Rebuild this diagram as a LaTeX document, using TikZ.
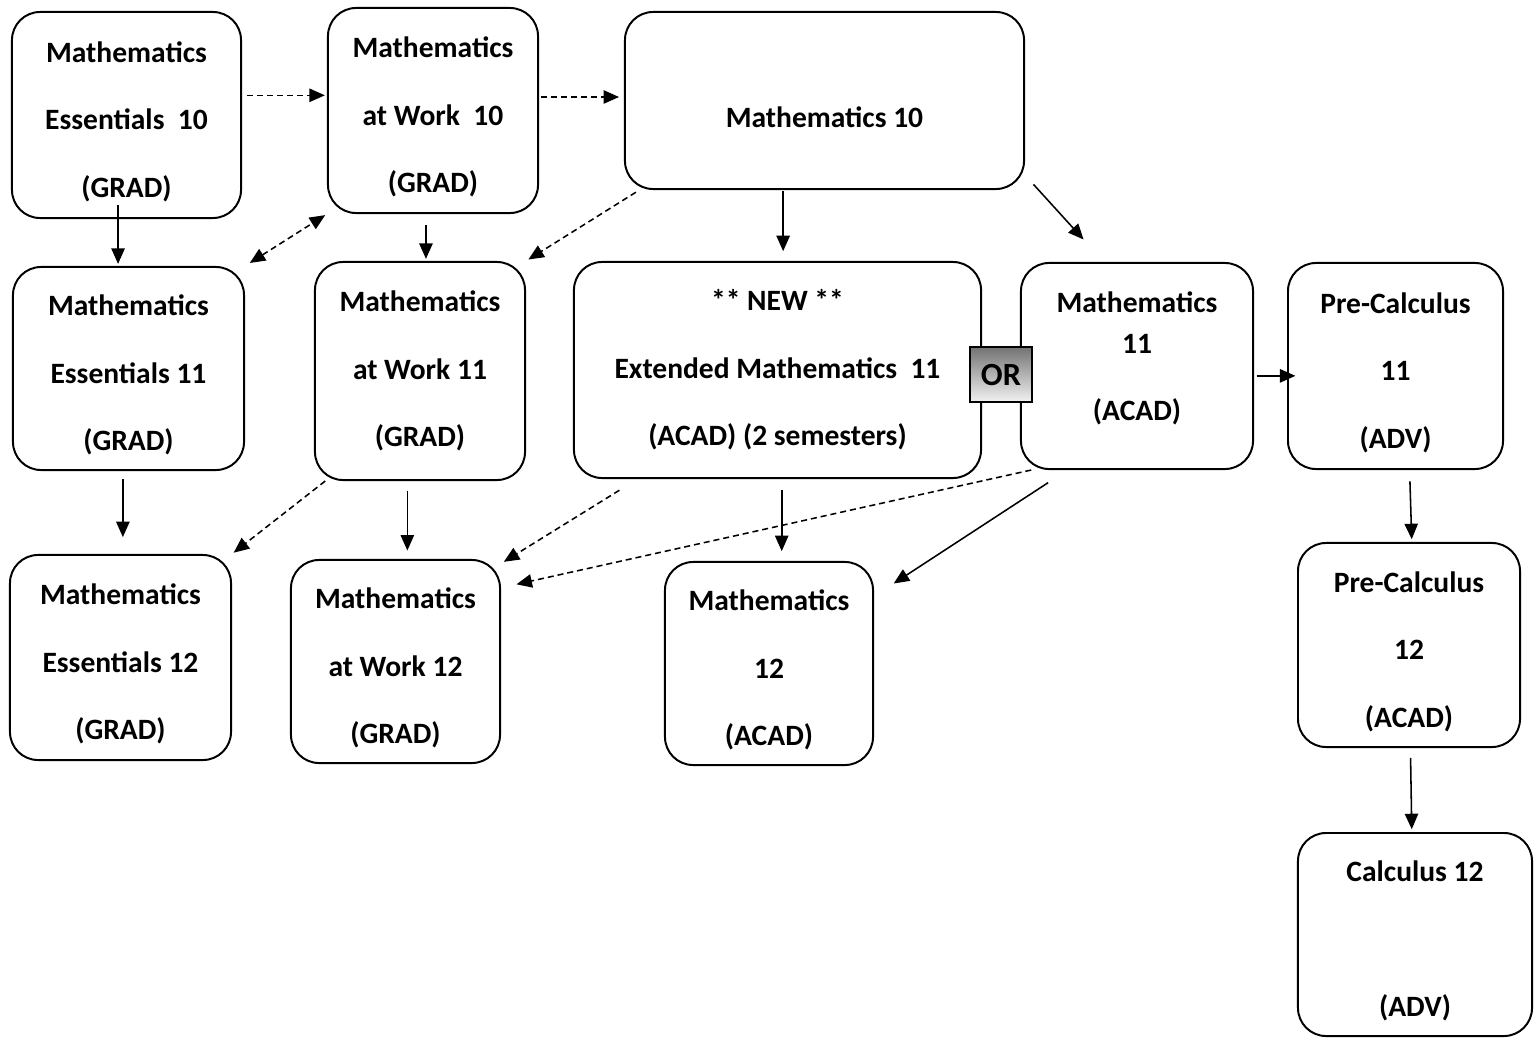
\documentclass[tikz,border=0pt]{standalone}
\usepackage{fontspec}
\setmainfont{Carlito}
\usetikzlibrary{arrows.meta, positioning}
\newcommand{\lowgap}{\rule{0pt}{24pt}}
\newcommand{\highgap}{\rule[-14pt]{0pt}{14pt}}

\begin{document}
\begin{tikzpicture}[
    x=0.025cm, y=-0.025cm,
    >={Triangle[length=11pt,width=9.5pt]},
    course/.style={rectangle, draw, line width=1.4pt, rounded corners=20pt, align=center,
        inner sep=0pt, font=\fontsize{21}{48}\selectfont\bfseries},
    ornode/.style={rectangle, draw, line width=2pt, inner sep=0pt,
        top color=black!55, bottom color=black!5,
        minimum width=1.55cm, minimum height=1.375cm,
        font=\fontsize{23}{26}\selectfont\bfseries},
    arr/.style={->, line width=1.1pt},
    dasharr/.style={arr, dash pattern=on 4.3pt off 2.8pt}
]
\useasboundingbox (0,0) rectangle (1540,1040);

% Grade 10 courses
\node[course, minimum width=5.725cm, minimum height=5.15cm] (ess10) at (126.5,115)
    {\lowgap Mathematics\\Essentials\ \ 10\\(GRAD)};
\node[course, minimum width=5.25cm, minimum height=5.125cm] (work10) at (433,110.5)
    {\lowgap Mathematics\\at Work\ \ 10\\(GRAD)};
\node[course, minimum width=9.975cm, minimum height=4.425cm] (math10) at (824.5,100.5)
    {\raisebox{-19pt}[0pt][0pt]{Mathematics 10}};

% Grade 11 courses
\node[course, minimum width=5.775cm, minimum height=5.075cm] (ess11) at (128.5,368.5)
    {\lowgap Mathematics\\Essentials 11\\(GRAD)};
\node[course, minimum width=5.25cm, minimum height=5.45cm] (work11) at (420,371)
    {Mathematics\\at Work 11\\(GRAD)};
\node[course, minimum width=10.175cm, minimum height=5.4cm] (ext11) at (777.5,370)
    {** NEW **\\Extended Mathematics\ \ 11\\(ACAD) (2 semesters)};
\node[course, minimum width=5.8cm, minimum height=5.15cm] (math11) at (1137,366)
    {Mathematics\\[-19pt]11\\(ACAD)\highgap};
\node[course, minimum width=5.375cm, minimum height=5.15cm] (precalc11) at (1395.5,366)
    {\lowgap Pre-Calculus\\11\\(ADV)};

% OR between the two grade 11 options
\node[ornode] (or) at (1001,374.5) {\raisebox{-2pt}{OR}};

% Grade 12 courses
\node[course, minimum width=5.525cm, minimum height=5.125cm] (ess12) at (120.5,657.5)
    {\lowgap Mathematics\\Essentials 12\\(GRAD)};
\node[course, minimum width=5.225cm, minimum height=5.075cm] (work12) at (395.5,661.5)
    {\lowgap Mathematics\\at Work 12\\(GRAD)};
\node[course, minimum width=5.2cm, minimum height=5.075cm] (math12) at (769,663.5)
    {\lowgap Mathematics\\12\\(ACAD)};
\node[course, minimum width=5.55cm, minimum height=5.1cm] (precalc12) at (1409,645)
    {\lowgap Pre-Calculus\\12\\(ACAD)};
\node[course, minimum width=5.85cm, minimum height=5.075cm] (calc12) at (1415,934.5)
    {\lowgap Calculus 12\\~\\(ADV)};

% Grade 10 connections
\draw[dasharr, shorten <=3.5pt, shorten >=1.5pt] ([yshift=14pt]ess10.east) -- ([yshift=14pt]ess10.east -| work10.west);
\draw[dasharr, shorten <=1.5pt, shorten >=3.5pt] ([yshift=9.6pt]work10.east) -- ([yshift=9.6pt]work10.east -| math10.west);
\draw[arr, shorten <=-10pt, shorten >=1.5pt] ([xshift=-6pt]ess10.south) -- ([xshift=-6pt]ess10.south |- ess11.north);
\draw[dasharr, <->, shorten <=4pt, shorten >=1.5pt] (ess11.north east) -- (work10.south west);
\draw[arr, shorten <=8pt, shorten >=1.5pt] ([xshift=-5pt]work10.south) -- ([xshift=-5pt]work10.south |- work11.north);
\draw[dasharr, shorten <=3pt, shorten >=2pt] ([xshift=11pt]math10.south west) -- (work11.north east);
\draw[arr, shorten <=1pt, shorten >=7pt] ([xshift=4pt]ext11.north |- math10.south) -- ([xshift=4pt]ext11.north);
\draw[arr] ([xshift=6pt,yshift=4pt]math10.south east) -- ([xshift=-38pt,yshift=16pt]math11.north);

% Grade 11 connections
\draw[arr, shorten <=2pt, shorten >=-6pt] ([yshift=-7pt]math11.east) -- ([yshift=-7pt]math11.east -| precalc11.west);
\draw[arr, shorten <=6pt, shorten >=12pt] ([xshift=-4pt]ess11.south) -- ([xshift=-4pt]ess11.south |- ess12.north);
\draw[dasharr, shorten >=1.5pt] ([xshift=8pt]work11.south west) -- (ess12.north east);
\draw[arr, shorten <=7pt, shorten >=6pt] ([xshift=-9pt]work11.south) -- ([xshift=-9pt]work11.south |- work12.north);
\draw[dasharr] ([xshift=33pt,yshift=-8pt]ext11.south west) -- ([xshift=2pt,yshift=-2pt]work12.north east);
\draw[dasharr] ([xshift=8pt]math11.south west) -- ([xshift=11pt,yshift=-18pt]work12.north east);
\draw[arr, shorten <=8pt, shorten >=7pt] ([xshift=3pt]ext11.south) -- ([xshift=3pt]ext11.south |- math12.north);
\draw[arr] ([xshift=20pt,yshift=-9pt]math11.south west) -- ([xshift=14pt,yshift=-16pt]math12.north east);
\draw[arr, shorten <=8pt, shorten >=2pt] ([xshift=10pt]precalc11.south) -- ([xshift=2pt]precalc12.north);

% Grade 12 connection
\draw[arr, shorten <=7pt, shorten >=2pt] ([xshift=1pt]precalc12.south) -- ([xshift=2pt]precalc12.south |- calc12.north);

\end{tikzpicture}
\end{document}
